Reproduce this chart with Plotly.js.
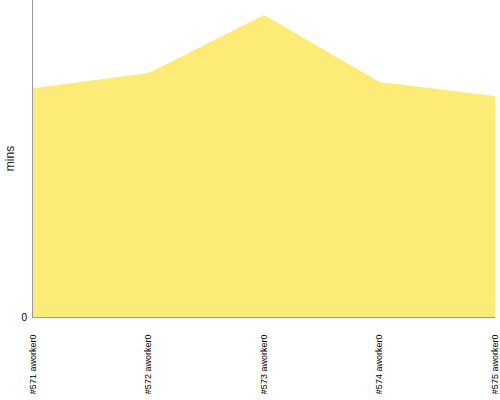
<!DOCTYPE html>
<html>
<head>
<script src="https://cdn.plot.ly/plotly-3.0.1.min.js"></script>
<style>html,body{margin:0;padding:0;background:#fff;}</style>
</head>
<body>
<div id="chart" style="width:500px;height:400px;"></div>
<script>
var categories = ["#571 aworker0", "#572 aworker0", "#573 aworker0", "#574 aworker0", "#575 aworker0"];
var minsValues = [7.22, 7.70, 9.53, 7.41, 6.97];
var yTickVals = [0];
var yTickText = ["0"];

var trace = {
  x: categories,
  y: minsValues,
  type: "scatter",
  mode: "lines",
  fill: "tozeroy",
  fillcolor: "rgb(253,235,119)",
  line: {width: 0, color: "rgb(253,235,119)"},
  hoverinfo: "x+y"
};

var layout = {
  width: 500,
  height: 400,
  margin: {l: 33, r: 5, t: 0, b: 83, pad: 0},
  paper_bgcolor: "#ffffff",
  plot_bgcolor: "#ffffff",
  showlegend: false,
  xaxis: {
    type: "category",
    range: [0, categories.length - 1],
    showgrid: false,
    zeroline: false,
    showline: true,
    linecolor: "#999999",
    linewidth: 1,
    ticks: "outside",
    ticklen: 13,
    tickcolor: "rgba(0,0,0,0)",
    tickangle: -90,
    tickfont: {family: "Liberation Sans, Arial, sans-serif", size: 9, color: "#000"},
    automargin: false
  },
  yaxis: {
    range: [0, 10],
    showgrid: false,
    zeroline: false,
    showline: true,
    linecolor: "#999999",
    linewidth: 1,
    ticks: "outside",
    ticklen: 3,
    tickcolor: "rgba(0,0,0,0)",
    tickvals: yTickVals,
    ticktext: yTickText,
    tickfont: {family: "Liberation Sans, Arial, sans-serif", size: 10, color: "#000"},
    title: {text: "mins", font: {family: "Liberation Sans, Arial, sans-serif", size: 12, color: "#222"}, standoff: 4},
    automargin: false
  }
};

Plotly.newPlot("chart", [trace], layout, {displayModeBar: false, staticPlot: true});
</script>
</body>
</html>
